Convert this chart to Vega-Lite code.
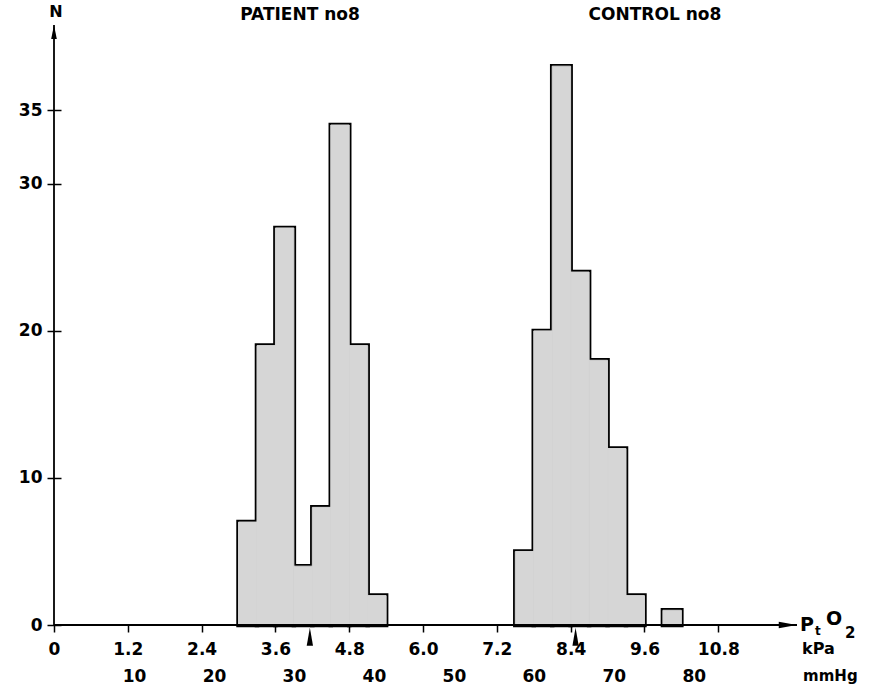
{
  "$schema": "https://vega.github.io/schema/vega-lite/v6.json",
  "width": 743,
  "height": 600,
  "autosize": {"type": "none"},
  "padding": {"left": 54, "top": 25, "right": 82, "bottom": 60},
  "background": "white",
  "config": {
    "view": {"stroke": null},
    "axis": {"labelFont": "DejaVu Sans", "labelFontWeight": "bold", "labelColor": "black", "tickColor": "black", "grid": false, "title": null, "labelFlush": false},
    "text": {"font": "DejaVu Sans", "fontWeight": "bold", "color": "black"}
  },
  "datasets": {
    "bins": [
      {"group": "PATIENT", "start": 3.0, "end": 3.3, "n": 7},
      {"group": "PATIENT", "start": 3.3, "end": 3.6, "n": 19},
      {"group": "PATIENT", "start": 3.6, "end": 3.9, "n": 27},
      {"group": "PATIENT", "start": 3.9, "end": 4.2, "n": 4},
      {"group": "PATIENT", "start": 4.2, "end": 4.5, "n": 8},
      {"group": "PATIENT", "start": 4.5, "end": 4.8, "n": 34},
      {"group": "PATIENT", "start": 4.8, "end": 5.1, "n": 19},
      {"group": "PATIENT", "start": 5.1, "end": 5.4, "n": 2},
      {"group": "CONTROL", "start": 7.5, "end": 7.8, "n": 5},
      {"group": "CONTROL", "start": 7.8, "end": 8.1, "n": 20},
      {"group": "CONTROL", "start": 8.1, "end": 8.4, "n": 38},
      {"group": "CONTROL", "start": 8.4, "end": 8.7, "n": 24},
      {"group": "CONTROL", "start": 8.7, "end": 9.0, "n": 18},
      {"group": "CONTROL", "start": 9.0, "end": 9.3, "n": 12},
      {"group": "CONTROL", "start": 9.3, "end": 9.6, "n": 2},
      {"group": "CONTROL", "start": 9.9, "end": 10.2, "n": 1}
    ],
    "means": [
      {"group": "PATIENT", "mean": 4.16},
      {"group": "CONTROL", "mean": 8.48}
    ],
    "mmhg": [
      {"mmHg": 10}, {"mmHg": 20}, {"mmHg": 30}, {"mmHg": 40},
      {"mmHg": 50}, {"mmHg": 60}, {"mmHg": 70}, {"mmHg": 80}
    ],
    "one": [{}]
  },
  "layer": [
    {
      "layer": [
        {
          "data": {"name": "bins"},
          "mark": {"type": "bar", "fill": "#d6d6d6", "stroke": "black", "strokeWidth": 4.5},
          "encoding": {
            "x": {"field": "start", "type": "quantitative", "scale": {"domain": [0, 12.08], "nice": false, "zero": false},
              "axis": {"values": [0, 1.2, 2.4, 3.6, 4.8, 6.0, 7.2, 8.4, 9.6, 10.8], "labelExpr": "datum.value === 0 ? '0' : format(datum.value, '.1f')", "domain": false, "tickSize": 7, "tickWidth": 1.5, "labelPadding": 9, "labelFontSize": 17}},
            "x2": {"field": "end"},
            "y": {"field": "n", "type": "quantitative", "scale": {"domain": [0, 40.8], "nice": false},
              "axis": {"values": [0, 10, 20, 30, 35], "domain": false, "tickSize": 14, "tickWidth": 1.5, "offset": -7, "labelPadding": 5, "labelFontSize": 17}},
            "y2": {"datum": 0}
          }
        },
        {
          "data": {"name": "bins"},
          "mark": {"type": "bar", "fill": "#d6d6d6", "stroke": "#d6d6d6", "strokeWidth": 1},
          "encoding": {
            "x": {"field": "start", "type": "quantitative"},
            "x2": {"field": "end"},
            "y": {"field": "n", "type": "quantitative"},
            "y2": {"datum": 0}
          }
        },
        {
          "data": {"name": "one"},
          "mark": {"type": "rule", "color": "black", "strokeWidth": 1.8},
          "encoding": {"x": {"datum": 0, "type": "quantitative"}}
        },
        {
          "data": {"name": "one"},
          "mark": {"type": "rule", "color": "black", "strokeWidth": 1.8},
          "encoding": {"y": {"datum": 0, "type": "quantitative"}}
        },
        {
          "data": {"name": "one"},
          "mark": {"type": "point", "shape": "M0,-1L0.4,1L-0.4,1Z", "filled": true, "color": "black", "size": 196, "opacity": 1},
          "encoding": {"x": {"datum": 0, "type": "quantitative"}, "y": {"datum": 40.32, "type": "quantitative"}}
        },
        {
          "data": {"name": "one"},
          "mark": {"type": "point", "shape": "M1,0L-1,0.35L-1,-0.35Z", "filled": true, "color": "black", "size": 324, "opacity": 1},
          "encoding": {"x": {"datum": 11.93, "type": "quantitative"}, "y": {"datum": 0, "type": "quantitative"}}
        },
        {
          "data": {"name": "means"},
          "mark": {"type": "point", "shape": "M0,-1L0.35,1L-0.35,1Z", "filled": true, "color": "black", "size": 324, "opacity": 1},
          "encoding": {"x": {"field": "mean", "type": "quantitative"}, "y": {"datum": -0.8, "type": "quantitative"}}
        },
        {
          "data": {"name": "one"},
          "mark": {"type": "text", "text": "PATIENT no8", "fontSize": 17, "align": "center", "baseline": "middle"},
          "encoding": {"x": {"datum": 4.0, "type": "quantitative"}, "y": {"datum": 41.5, "type": "quantitative"}}
        },
        {
          "data": {"name": "one"},
          "mark": {"type": "text", "text": "CONTROL no8", "fontSize": 17, "align": "center", "baseline": "middle"},
          "encoding": {"x": {"datum": 9.77, "type": "quantitative"}, "y": {"datum": 41.5, "type": "quantitative"}}
        },
        {
          "data": {"name": "one"},
          "mark": {"type": "text", "text": "N", "fontSize": 16, "align": "center", "baseline": "middle", "dx": 2},
          "encoding": {"x": {"datum": 0, "type": "quantitative"}, "y": {"datum": 41.7, "type": "quantitative"}}
        },
        {
          "data": {"name": "one"},
          "mark": {"type": "text", "text": "P", "fontSize": 19, "align": "left", "baseline": "middle", "dy": 0},
          "encoding": {"x": {"datum": 12.13, "type": "quantitative"}, "y": {"datum": 0, "type": "quantitative"}}
        },
        {
          "data": {"name": "one"},
          "mark": {"type": "text", "text": "t", "fontSize": 12, "align": "left", "baseline": "middle", "dx": 15, "dy": 6},
          "encoding": {"x": {"datum": 12.13, "type": "quantitative"}, "y": {"datum": 0, "type": "quantitative"}}
        },
        {
          "data": {"name": "one"},
          "mark": {"type": "text", "text": "O", "fontSize": 19, "align": "left", "baseline": "middle", "dx": 26, "dy": -6},
          "encoding": {"x": {"datum": 12.13, "type": "quantitative"}, "y": {"datum": 0, "type": "quantitative"}}
        },
        {
          "data": {"name": "one"},
          "mark": {"type": "text", "text": "2", "fontSize": 15, "align": "left", "baseline": "middle", "dx": 45, "dy": 8},
          "encoding": {"x": {"datum": 12.13, "type": "quantitative"}, "y": {"datum": 0, "type": "quantitative"}}
        },
        {
          "data": {"name": "one"},
          "mark": {"type": "text", "text": "kPa", "fontSize": 16, "align": "left", "baseline": "middle", "dx": 2, "dy": 24},
          "encoding": {"x": {"datum": 12.13, "type": "quantitative"}, "y": {"datum": 0, "type": "quantitative"}}
        },
        {
          "data": {"name": "one"},
          "mark": {"type": "text", "text": "mmHg", "fontSize": 15, "align": "left", "baseline": "alphabetic", "dx": 3, "dy": 56},
          "encoding": {"x": {"datum": 12.13, "type": "quantitative"}, "y": {"datum": 0, "type": "quantitative"}}
        }
      ]
    },
    {
      "data": {"name": "mmhg"},
      "mark": {"type": "tick", "opacity": 0},
      "encoding": {
        "x": {"field": "mmHg", "type": "quantitative", "scale": {"domain": [0, 92.9], "nice": false, "zero": false},
          "axis": {"orient": "bottom", "values": [10, 20, 30, 40, 50, 60, 70, 80], "ticks": false, "domain": false, "labelPadding": 43, "labelFontSize": 17}}
      }
    }
  ],
  "resolve": {"scale": {"x": "independent"}}
}
